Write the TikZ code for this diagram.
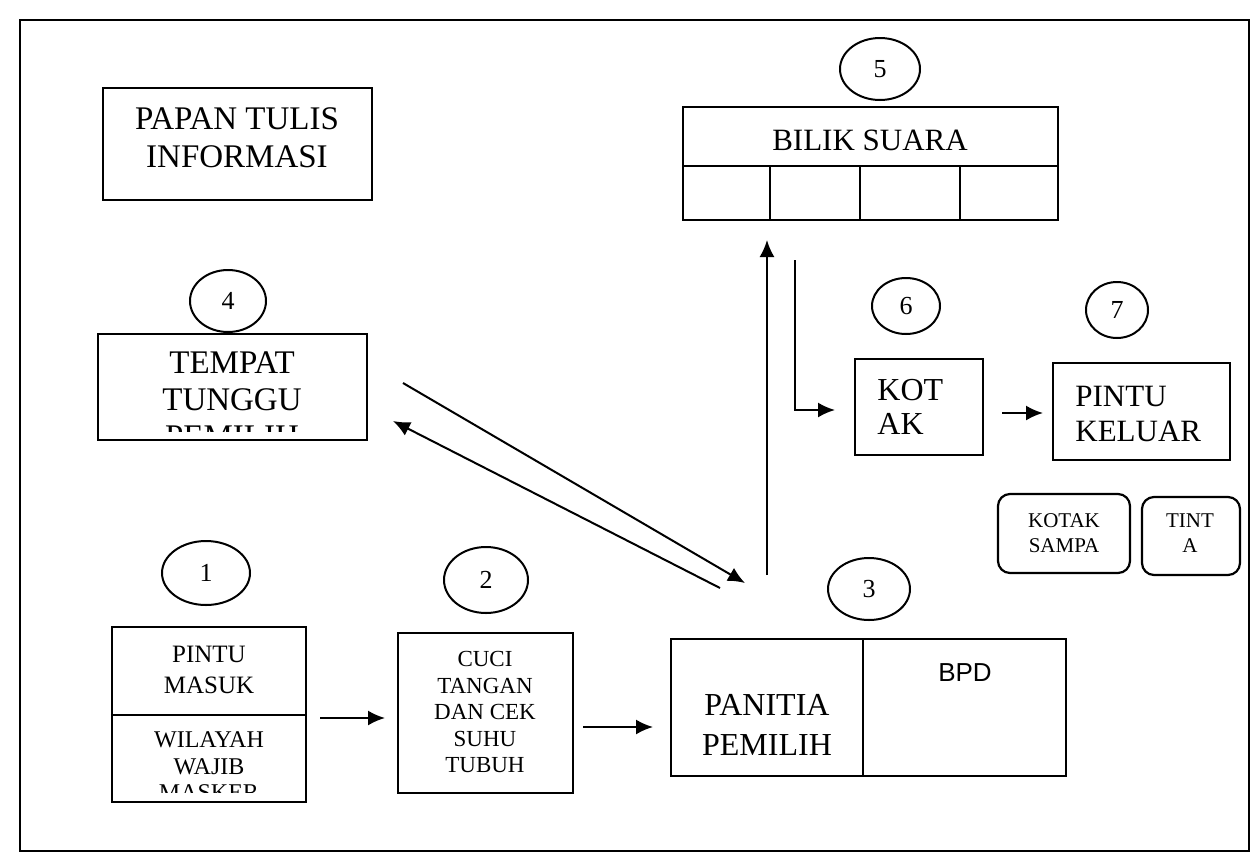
\documentclass[tikz,border=0pt]{standalone}
\usepackage{fontspec}
\setmainfont{Liberation Serif}
\newfontfamily\sansf{Liberation Sans}
\usetikzlibrary{shapes.geometric,fit,arrows.meta}
\begin{document}
\begin{tikzpicture}[x=0.5pt,y=-0.5pt,
  box/.style={draw,line width=1.1pt,inner sep=0pt},
  rbox/.style={box,rounded corners=6pt},
  num/.style={draw,ellipse,line width=1pt,inner sep=0pt,font=\fontsize{13}{15}\selectfont},
  txt/.style={inner sep=0pt,align=center},
  arr/.style={line width=1pt,-{Latex[length=8.5pt,width=7.5pt]}},
  divl/.style={line width=1.1pt}]
\useasboundingbox (0,0) rectangle (1254,863);
\draw[line width=1.2pt] (20,20) rectangle (1249,851);

% Papan tulis
\node[box,fit={(103,88) (372,200)}] (papan) {};
\node[txt,font=\fontsize{16.5}{19}\selectfont] (papant) at (237,138) {PAPAN TULIS\\INFORMASI};

% 4 Tempat tunggu
\node[num,minimum width=38pt,minimum height=31pt] (n4) at (228,301) {4};
\node[box,fit={(98,334) (367,440)}] (tempat) {};
\begin{scope}
\clip (98,334) rectangle (367,431);
\node[txt,font=\fontsize{16.5}{18.5}\selectfont] (tempatt) at (232,400) {TEMPAT\\TUNGGU\\PEMILIH};
\end{scope}

% 1 Pintu masuk
\node[num,minimum width=44pt,minimum height=32pt] (n1) at (206,573) {1};
\node[box,fit={(112,627) (306,802)}] (masuk) {};
\draw[divl] (masuk.west |- 0,715) -- (masuk.east |- 0,715);
\node[txt,font=\fontsize{12.5}{15.5}\selectfont] (masukt) at (209,670) {PINTU\\MASUK};
\begin{scope}
\clip (112,717) rectangle (306,792);
\node[txt,font=\fontsize{12}{13.25}\selectfont] (wilayah) at (209,766.5) {WILAYAH\\WAJIB\\MASKER};
\end{scope}

% 2 Cuci tangan
\node[num,minimum width=42pt,minimum height=33pt] (n2) at (486,580) {2};
\node[box,fit={(398,633) (573,793)}] (cuci) {};
\node[txt,font=\fontsize{11.5}{13.25}\selectfont] (cucit) at (485,712) {CUCI\\TANGAN\\DAN CEK\\SUHU\\TUBUH};

% 3 Panitia
\node[num,minimum width=41pt,minimum height=31pt] (n3) at (869,589) {3};
\node[box,fit={(671,639) (1066,776)}] (panitia) {};
\draw[divl] (863,639) -- (863,776);
\node[txt,font=\fontsize{16}{20}\selectfont] (panitiat) at (767,725) {PANITIA\\PEMILIH};
\node[txt,font=\sansf\fontsize{13}{15}\selectfont] (bpd) at (965,673) {BPD};

% 5 Bilik suara
\node[num,minimum width=40pt,minimum height=31pt] (n5) at (880,69) {5};
\node[box,fit={(683,107) (1058,220)}] (bilik) {};
\draw[divl] (683,166) -- (1058,166);
\draw[divl] (770,166) -- (770,220);
\draw[divl] (860,166) -- (860,220);
\draw[divl] (960,166) -- (960,220);
\node[txt,font=\fontsize{15.5}{18}\selectfont] (bilikt) at (870,140) {BILIK SUARA};

% 6 Kotak
\node[num,minimum width=34pt,minimum height=28pt] (n6) at (906,306) {6};
\node[box,fit={(855,359) (983,455)}] (kotak) {};
\node[txt,align=left,anchor=west,font=\fontsize{16}{17}\selectfont] (kotakt) at (877,407) {KOT\\AK};

% 7 Pintu keluar
\node[num,minimum width=31pt,minimum height=28pt] (n7) at (1117,310) {7};
\node[box,fit={(1053,363) (1230,460)}] (keluar) {};
\node[txt,align=left,anchor=west,font=\fontsize{15.5}{17.5}\selectfont] (keluart) at (1075,413.5) {PINTU\\KELUAR};

% Kotak sampah, tinta
\node[rbox,fit={(998,494) (1130,573)}] (sampah) {};
\node[txt,font=\fontsize{10.5}{12.5}\selectfont] (sampaht) at (1064,533) {KOTAK\\SAMPA};
\node[rbox,fit={(1142,497) (1240,575)}] (tinta) {};
\node[txt,font=\fontsize{10.5}{12.5}\selectfont] (tintat) at (1190,533) {TINT\\A};

% connectors
\coordinate (a12s) at (320,718); \coordinate (a12e) at (385,718);
\coordinate (a23s) at (583,727); \coordinate (a23e) at (653,727);
\coordinate (aups) at (767,575); \coordinate (aupe) at (767,240);
\coordinate (d1s) at (403,383); \coordinate (d1e) at (745,583);
\coordinate (d2s) at (720,588); \coordinate (d2e) at (393,421);
\coordinate (ls) at (795,260); \coordinate (le) at (835,410);
\coordinate (a67s) at (1002,413); \coordinate (a67e) at (1043,413);
\draw[arr] (a12s) -- (a12e);
\draw[arr] (a23s) -- (a23e);
\draw[arr] (aups) -- (aupe);
\draw[arr] (d1s) -- (d1e);
\draw[arr] (d2s) -- (d2e);
\draw[arr] (ls) |- (le);
\draw[arr] (a67s) -- (a67e);
\end{tikzpicture}
\end{document}
